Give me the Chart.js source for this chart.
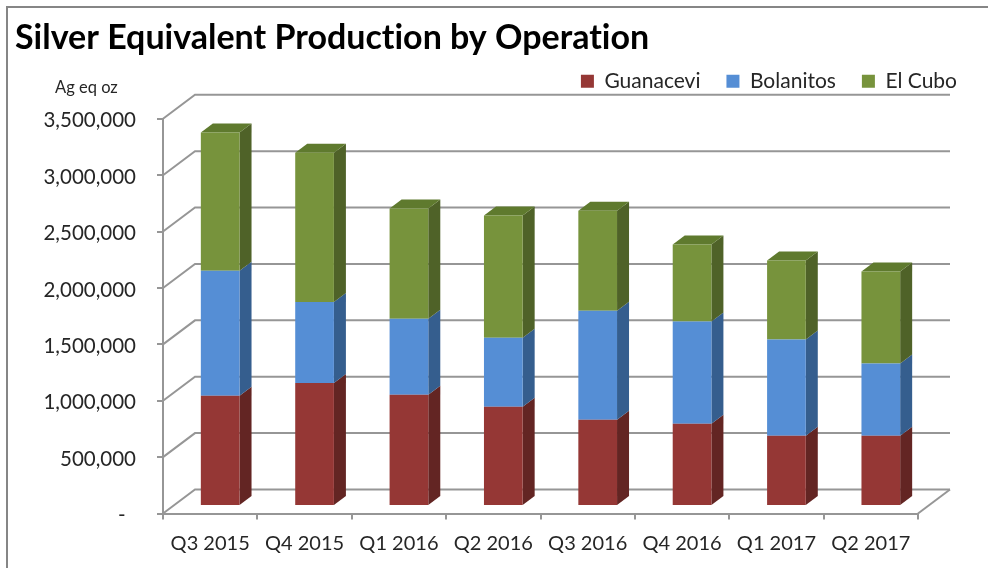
<!DOCTYPE html>
<html>
<head>
<meta charset="utf-8">
<script src="https://cdn.jsdelivr.net/npm/chart.js@4"></script>
<style>
  html, body { margin: 0; padding: 0; background: #fff; }
  canvas { display: block; }
</style>
</head>
<body>
<canvas id="chart" width="988" height="568"></canvas>
<script>
const categories = ['Q3 2015', 'Q4 2015', 'Q1 2016', 'Q2 2016', 'Q3 2016', 'Q4 2016', 'Q1 2017', 'Q2 2017'];
const guanacevi = [978000, 1091000, 987000, 880000, 765000, 730000, 624000, 624000];
const bolanitos = [1109000, 719000, 674000, 612000, 967000, 905000, 852000, 639000];
const elCubo = [1224000, 1322000, 976000, 1083000, 887000, 683000, 701000, 816000];

const GRID = '#969696';
const WALL_X = 32, WALL_Y = 24;   // depth of the fake 3d box
const BAR_X = 12, BAR_Y = 9;      // depth of a bar
const sideColors = ['#632523', '#355e8e', '#4f6228'];
const capColor = '#5f7a2e';

function face(ctx, pts, color) {
  ctx.fillStyle = color;
  ctx.beginPath();
  pts.forEach((p, i) => (i ? ctx.lineTo(p[0], p[1]) : ctx.moveTo(p[0], p[1])));
  ctx.closePath();
  ctx.fill();
}

const box3d = {
  id: 'box3d',
  beforeLayout(chart) {
    // no ligatures, the Lato "ti" looks wrong here
    chart.ctx.textRendering = 'optimizeSpeed';
  },
  afterLayout(chart) {
    chart.legend.left += 65;
    chart.legend.right += 65;
    chart.legend.top -= 17;
  },
  beforeDraw(chart) {
    const { ctx, chartArea: a, scales: { y } } = chart;
    ctx.save();
    // outer frame, only top and left show
    ctx.strokeStyle = '#868686';
    ctx.lineWidth = 2;
    ctx.beginPath();
    ctx.moveTo(7, 568);
    ctx.lineTo(7, 7);
    ctx.lineTo(988, 7);
    ctx.stroke();
    // wall gridlines
    ctx.strokeStyle = GRID;
    ctx.lineWidth = 2;
    y.ticks.forEach((t) => {
      const py = y.getPixelForValue(t.value);
      ctx.beginPath();
      ctx.moveTo(a.left, py);
      ctx.lineTo(a.left + WALL_X, py - WALL_Y);
      ctx.lineTo(a.right + WALL_X, py - WALL_Y);
      ctx.stroke();
    });
    // floor edge on the right
    ctx.beginPath();
    ctx.moveTo(a.right, a.bottom);
    ctx.lineTo(a.right + WALL_X, a.bottom - WALL_Y);
    ctx.stroke();
    ctx.restore();
  },
  beforeDatasetsDraw(chart) {
    const { ctx } = chart;
    ctx.save();
    // bars sit in the middle of the box depth
    ctx.translate((WALL_X - BAR_X) / 2, -(WALL_Y - BAR_Y) / 2);
    chart.data.datasets.forEach((ds, d) => {
      chart.getDatasetMeta(d).data.forEach((bar) => {
        const { x, y, base, width } = bar.getProps(['x', 'y', 'base', 'width']);
        const l = x - width / 2, r = x + width / 2;
        face(ctx, [[r, y], [r + BAR_X, y - BAR_Y], [r + BAR_X, base - BAR_Y], [r, base]], sideColors[d]);
        if (d === chart.data.datasets.length - 1) {
          face(ctx, [[l, y], [l + BAR_X, y - BAR_Y], [r + BAR_X, y - BAR_Y], [r, y]], capColor);
        }
      });
    });
  },
  afterDatasetsDraw(chart) {
    chart.ctx.restore();
  },
  afterDraw(chart) {
    const { ctx } = chart;
    ctx.save();
    ctx.fillStyle = '#262626';
    ctx.font = '16.5px Lato';
    ctx.textBaseline = 'middle';
    ctx.fillText('Ag eq oz', 55, 88);
    ctx.restore();
  }
};

new Chart(document.getElementById('chart'), {
  type: 'bar',
  plugins: [box3d],
  data: {
    labels: categories,
    datasets: [
      { label: 'Guanacevi', data: guanacevi, backgroundColor: '#953735' },
      { label: 'Bolanitos', data: bolanitos, backgroundColor: '#558ed5' },
      { label: 'El Cubo', data: elCubo, backgroundColor: '#77933c' }
    ]
  },
  options: {
    responsive: false,
    animation: false,
    layout: { padding: { left: 15, right: 70 } },
    barPercentage: 0.41,
    categoryPercentage: 1,
    plugins: {
      tooltip: { enabled: false },
      title: {
        display: true,
        text: 'Silver Equivalent Production by Operation',
        align: 'start',
        color: '#000',
        font: { family: 'Lato', size: 34, weight: 'bold' },
        padding: { top: 18, bottom: 3 }
      },
      legend: {
        position: 'top',
        align: 'end',
        labels: {
          boxWidth: 13,
          boxHeight: 13,
          padding: 26,
          color: '#262626',
          font: { family: 'Lato', size: 21 }
        }
      }
    },
    scales: {
      x: {
        stacked: true,
        afterFit(scale) { scale.height = 54.5; },
        border: { color: GRID, width: 2 },
        grid: { color: GRID, lineWidth: 2, drawOnChartArea: false, tickLength: 6 },
        ticks: { color: '#262626', padding: 12, maxRotation: 0, font: { family: 'Lato', size: 20 } }
      },
      y: {
        stacked: true,
        min: 0,
        max: 3500000,
        afterFit(scale) { scale.width = 148; },
        border: { color: GRID, width: 2 },
        grid: { color: GRID, lineWidth: 2, drawOnChartArea: false, tickLength: 6 },
        ticks: {
          stepSize: 500000,
          color: '#262626',
          padding: 21,
          labelOffset: 2,
          font: { family: 'Lato', size: 20.5 },
          callback: (v) => (v === 0 ? '-  ' : v.toLocaleString('en-US'))
        }
      }
    }
  }
});
</script>
</body>
</html>
